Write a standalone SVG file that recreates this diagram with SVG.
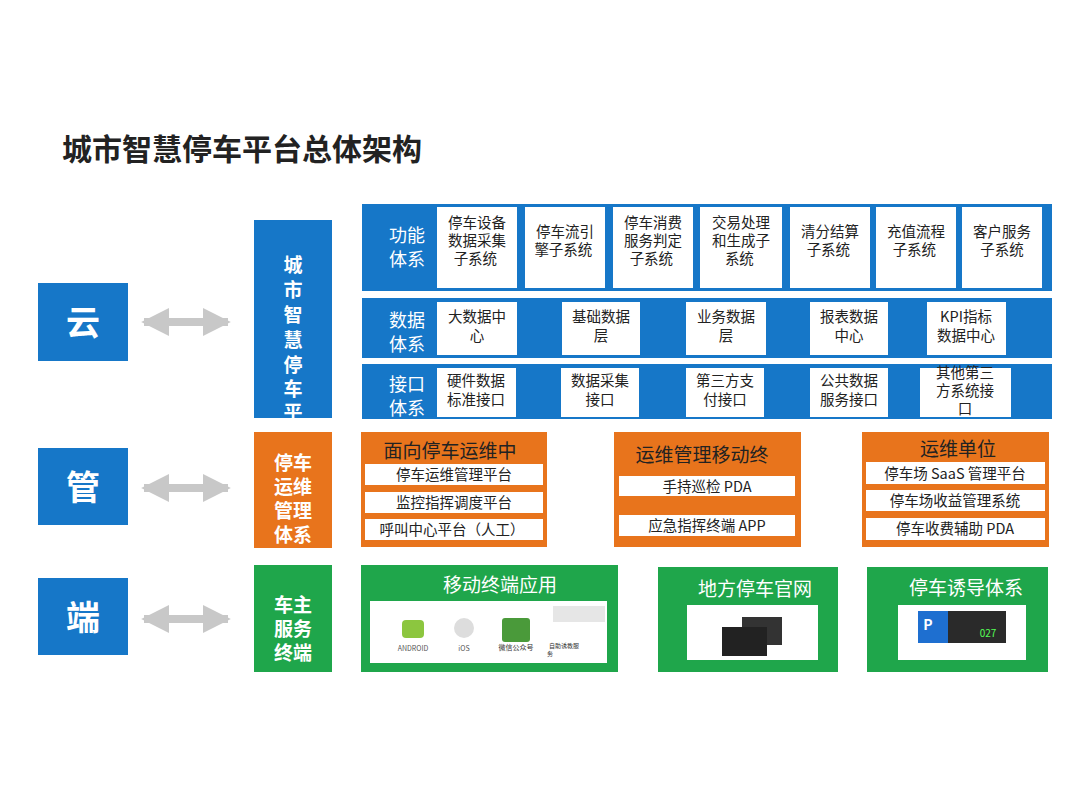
<svg xmlns="http://www.w3.org/2000/svg" width="1080" height="805" viewBox="0 0 1080 805">
<defs>
<style>
text{font-family:"Noto Sans CJK SC","Liberation Sans",sans-serif;text-anchor:middle}
.b{fill:#1677c8}.o{fill:#e8741c}.g{fill:#1fa64b}.w{fill:#fff}
.wt{fill:#fff}.k{fill:#222}
.s{font-size:14.5px}.m{font-size:18px}
</style>
<marker id="ah" viewBox="0 0 10 10" refX="9" refY="5" markerWidth="3.5" markerHeight="3.5" orient="auto-start-reverse"><path d="M0,0L10,5L0,10z" fill="#c8c8c8"/></marker>
</defs>
<rect width="1080" height="805" fill="#fff"/>
<text x="62" y="160" style="text-anchor:start;font-size:30px;font-weight:bold" class="k">城市智慧停车平台总体架构</text>

<g id="yun"><rect x="38" y="283" width="90" height="78" class="b"/><text x="83" y="335" class="wt" style="font-size:34px;font-weight:bold">云</text></g>
<g id="guan"><rect x="38" y="448" width="90" height="77" class="b"/><text x="83" y="500" class="wt" style="font-size:34px;font-weight:bold">管</text></g>
<g id="duan"><rect x="38" y="578" width="90" height="77" class="b"/><text x="83" y="630" class="wt" style="font-size:34px;font-weight:bold">端</text></g>

<g id="connectors" stroke="#c8c8c8" stroke-width="8" marker-start="url(#ah)" marker-end="url(#ah)">
<line x1="144" y1="322" x2="228" y2="322"/>
<line x1="144" y1="488" x2="228" y2="488"/>
<line x1="144" y1="619" x2="228" y2="619"/>
</g>

<g id="col1"><rect x="254" y="220" width="78" height="198" class="b"/>
<text class="wt" style="font-size:19px;font-weight:bold"><tspan x="293" y="272">城</tspan><tspan x="293" y="297">市</tspan><tspan x="293" y="322">智</tspan><tspan x="293" y="347">慧</tspan><tspan x="293" y="372">停</tspan><tspan x="293" y="396">车</tspan><tspan x="293" y="419">平</tspan></text></g>
<g id="col2"><rect x="254" y="432" width="78" height="116" class="o"/>
<text class="wt" style="font-size:19px;font-weight:bold"><tspan x="293" y="470">停车</tspan><tspan x="293" y="494">运维</tspan><tspan x="293" y="518">管理</tspan><tspan x="293" y="542">体系</tspan></text></g>
<g id="col3"><rect x="254" y="565" width="78" height="107" class="g"/>
<text class="wt" style="font-size:19px;font-weight:bold"><tspan x="293" y="612">车主</tspan><tspan x="293" y="636">服务</tspan><tspan x="293" y="660">终端</tspan></text></g>

<g id="band1"><rect x="362" y="204" width="690" height="87" class="b"/>
<text class="wt m"><tspan x="407" y="242">功能</tspan><tspan x="407" y="266">体系</tspan></text>
<g class="w"><rect x="437" y="207" width="80" height="81"/><rect x="525" y="207" width="80" height="81"/><rect x="613" y="207" width="80" height="81"/><rect x="700" y="207" width="82" height="81"/><rect x="790" y="207" width="80" height="81"/><rect x="876" y="207" width="80" height="81"/><rect x="962" y="207" width="80" height="81"/></g>
<text class="k s"><tspan x="477" y="228">停车设备</tspan><tspan x="477" y="246">数据采集</tspan><tspan x="477" y="264">子系统</tspan>
<tspan x="565" y="237">停车流引</tspan><tspan x="565" y="255">擎子系统</tspan>
<tspan x="653" y="228">停车消费</tspan><tspan x="653" y="246">服务判定</tspan><tspan x="653" y="264">子系统</tspan>
<tspan x="741" y="228">交易处理</tspan><tspan x="741" y="246">和生成子</tspan><tspan x="741" y="264">系统</tspan>
<tspan x="830" y="237">清分结算</tspan><tspan x="830" y="255">子系统</tspan>
<tspan x="916" y="237">充值流程</tspan><tspan x="916" y="255">子系统</tspan>
<tspan x="1002" y="237">客户服务</tspan><tspan x="1002" y="255">子系统</tspan></text></g>

<g id="band2"><rect x="362" y="298" width="690" height="60" class="b"/>
<text class="wt m"><tspan x="407" y="327">数据</tspan><tspan x="407" y="351">体系</tspan></text>
<g class="w"><rect x="437" y="302" width="80" height="53"/><rect x="562" y="302" width="78" height="53"/><rect x="686" y="302" width="80" height="53"/><rect x="810" y="302" width="78" height="53"/><rect x="927" y="302" width="79" height="53"/></g>
<text class="k s"><tspan x="477" y="322">大数据中</tspan><tspan x="477" y="341">心</tspan><tspan x="601" y="322">基础数据</tspan><tspan x="601" y="341">层</tspan><tspan x="726" y="322">业务数据</tspan><tspan x="726" y="341">层</tspan><tspan x="849" y="322">报表数据</tspan><tspan x="849" y="341">中心</tspan><tspan x="966" y="322">KPI指标</tspan><tspan x="966" y="341">数据中心</tspan></text></g>

<g id="band3"><rect x="362" y="364" width="690" height="55" class="b"/>
<text class="wt m"><tspan x="407" y="391">接口</tspan><tspan x="407" y="415">体系</tspan></text>
<g class="w"><rect x="437" y="368" width="79" height="49"/><rect x="561" y="368" width="78" height="49"/><rect x="686" y="368" width="78" height="49"/><rect x="810" y="368" width="78" height="49"/><rect x="920" y="368" width="91" height="49"/></g>
<text class="k s"><tspan x="476" y="386">硬件数据</tspan><tspan x="476" y="405">标准接口</tspan><tspan x="600" y="386">数据采集</tspan><tspan x="600" y="405">接口</tspan><tspan x="725" y="386">第三方支</tspan><tspan x="725" y="405">付接口</tspan><tspan x="849" y="386">公共数据</tspan><tspan x="849" y="405">服务接口</tspan><tspan x="965" y="378">其他第三</tspan><tspan x="965" y="396">方系统接</tspan><tspan x="965" y="414">口</tspan></text></g>

<g id="ops1"><rect x="361" y="432" width="186" height="115" class="o"/>
<text x="450" y="458" class="k" style="font-size:19px">面向停车运维中</text>
<rect x="365" y="464" width="178" height="21" class="w"/><rect x="365" y="492" width="178" height="21" class="w"/><rect x="365" y="519" width="178" height="21" class="w"/>
<text class="k s"><tspan x="454" y="480">停车运维管理平台</tspan><tspan x="454" y="508">监控指挥调度平台</tspan><tspan x="452" y="535">呼叫中心平台（人工）</tspan></text></g>
<g id="ops2"><rect x="614" y="432" width="187" height="115" class="o"/>
<text x="702" y="462" class="k" style="font-size:19px">运维管理移动终</text>
<rect x="619" y="476" width="176" height="20" class="w"/><rect x="619" y="515" width="176" height="21" class="w"/>
<text class="k s"><tspan x="707" y="492">手持巡检 PDA</tspan><tspan x="707" y="531">应急指挥终端 APP</tspan></text></g>
<g id="ops3"><rect x="862" y="432" width="187" height="115" class="o"/>
<text x="958" y="456" class="k" style="font-size:19px">运维单位</text>
<rect x="866" y="462" width="179" height="22" class="w"/><rect x="866" y="490" width="179" height="21" class="w"/><rect x="866" y="518" width="179" height="22" class="w"/>
<text class="k s"><tspan x="955" y="479">停车场 SaaS 管理平台</tspan><tspan x="955" y="506">停车场收益管理系统</tspan><tspan x="955" y="534">停车收费辅助 PDA</tspan></text></g>

<g id="app1"><rect x="361" y="565" width="257" height="107" class="g"/>
<text x="500" y="592" class="wt" style="font-size:19px">移动终端应用</text>
<rect x="370" y="601" width="237" height="62" class="w"/>
<rect x="402" y="620" width="22" height="18" rx="4" fill="#8cc63f"/><text x="413" y="651" style="font-size:7px" fill="#555">ANDROID</text>
<circle cx="464" cy="628" r="10" fill="#ddd"/><text x="464" y="651" style="font-size:7px" fill="#555">iOS</text>
<rect x="502" y="618" width="28" height="24" rx="3" fill="#4a9a3a"/><text x="516" y="650" style="font-size:7px" fill="#333">微信公众号</text>
<rect x="553" y="606" width="52" height="16" fill="#e6e6e6"/><text x="564" y="648" style="font-size:6px" fill="#333">自助诱教服</text><text x="550" y="656" style="font-size:6px" fill="#333">务</text></g>
<g id="app2"><rect x="658" y="567" width="180" height="105" class="g"/>
<text x="755" y="596" class="wt" style="font-size:19px">地方停车官网</text>
<rect x="687" y="605" width="131" height="55" class="w"/>
<rect x="742" y="617" width="40" height="28" fill="#333"/><rect x="722" y="627" width="45" height="29" fill="#222"/></g>
<g id="app3"><rect x="867" y="567" width="181" height="105" class="g"/>
<text x="966" y="595" class="wt" style="font-size:19px">停车诱导体系</text>
<rect x="898" y="605" width="128" height="55" class="w"/>
<rect x="918" y="611" width="88" height="32" fill="#2a2a2a"/><rect x="918" y="611" width="30" height="32" fill="#1e6fd0"/><text x="928" y="630" class="wt" style="font-size:14px;font-weight:bold">P</text><text x="988" y="637" fill="#5f5" style="font-size:10px">027</text></g>
</svg>
